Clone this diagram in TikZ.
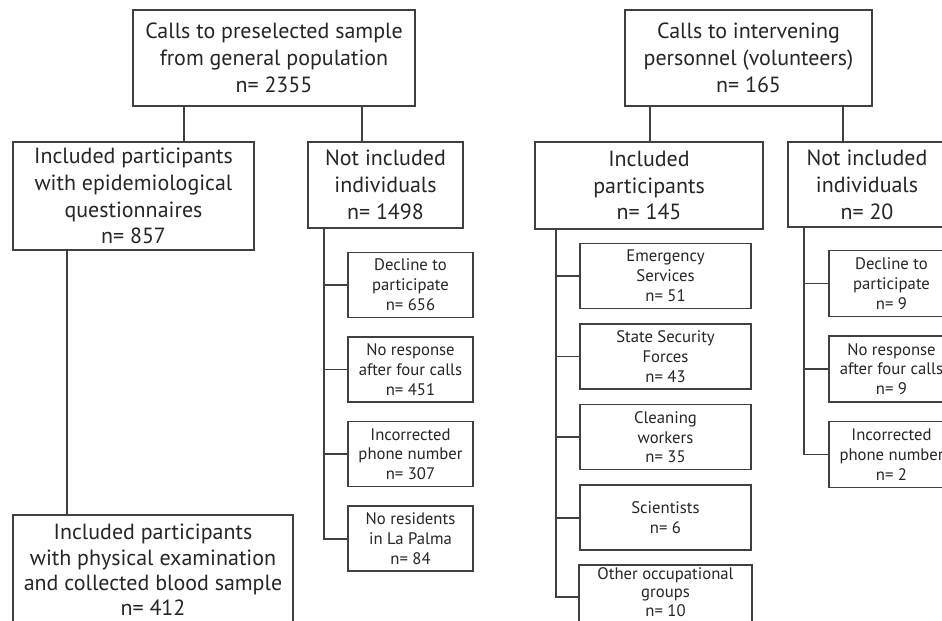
\documentclass[tikz,border=0pt]{standalone}
\usepackage{fontspec}
\setmainfont{PT Sans}
\usetikzlibrary{positioning}

\begin{document}
\begin{tikzpicture}[x=0.02cm, y=-0.02cm, every node/.style={text=black!85},
		blk/.style 2 args={draw=black!75, line width=0.9pt, minimum width=#1*0.02cm, minimum height=#2*0.02cm, inner sep=0pt, align=center, font=\fontsize{12.5}{15.3}\selectfont},
		sub/.style 2 args={blk={#1}{#2}, font=\fontsize{9.5}{11.3}\selectfont},
		lnk/.style={draw=black!75, line width=0.9pt}]
		\useasboundingbox[fill=white] (0,0) rectangle (942,620);
		\clip (0,0) rectangle (942,620);
		% general population
		\node[blk={282}{96}] (T1) at (274,58) {Calls to preselected sample\\from general population\\n= 2355};
		\node[blk={241}{108}] (I1) at (133.5,196) {Included participants\\with epidemiological\\questionnaires\\n= 857};
		\node[blk={155}{86}] (N1) at (385.5,185) {Not included\\individuals\\n= 1498};
		\node[blk={280}{110}, font=\fontsize{12.5}{14.4}\selectfont] (B1) at (153,570) {Included participants\\with physical examination\\and collected blood sample\\n= 412};
		\node[sub={125}{65}] (D1) at (410.5,285) {Decline to\\participate\\n= 656};
		\node[sub={125}{65}] (D2) [below=0.36cm of D1] {No response\\after four calls\\n= 451};
		\node[sub={125}{65}] (D3) [below=0.36cm of D2] {Incorrected\\phone number\\n= 307};
		\node[sub={125}{65}] (D4) [below=0.36cm of D3] {No residents\\in La Palma\\n= 84};
		% intervening personnel
		\node[blk={247}{96}] (T2) at (748.5,58) {Calls to intervening\\personnel (volunteers)\\n= 165};
		\node[blk={228}{87}] (I2) at (649,185.5) {Included\\participants\\n= 145};
		\node[blk={158}{85}] (N2) at (867,184.5) {Not included\\individuals\\n= 20};
		\node[sub={171}{65}] (E1) at (665.5,276) {Emergency\\Services\\n= 51};
		\node[sub={171}{65}] (E2) [below=0.28cm of E1] {State Security\\Forces\\n= 43};
		\node[sub={171}{65}] (E3) [below=0.28cm of E2] {Cleaning\\workers\\n= 35};
		\node[sub={171}{65}] (E4) [below=0.28cm of E3] {Scientists\\n= 6};
		\node[sub={171}{52}, draw=none, font=\fontsize{9.5}{10.6}\selectfont] (E5) [below=0.28cm of E4] {Other occupational\\groups\\n= 10};
		\draw[lnk] (E5.north west) rectangle ([yshift=-0.4cm]E5.south east);
		\node[sub={125}{66}] (R1) at (891.5,283.5) {Decline to\\participate\\n= 9};
		\node[sub={125}{66}] (R2) [below=0.36cm of R1] {No response\\after four calls\\n= 9};
		\node[sub={125}{66}] (R3) [below=0.36cm of R2] {Incorrected\\phone number\\n= 2};
		% connectors
		\draw[lnk] (T1.south west) ++(52,0) coordinate (c1) -- (c1 |- I1.north);
		\draw[lnk] (T1.south west) ++(230,0) coordinate (c2) -- (c2 |- N1.north);
		\draw[lnk] (I1.south west) ++(55,0) coordinate (c3) -- (c3 |- B1.north);
		\draw[lnk] (T2.south west) ++(26,0) coordinate (c4) -- (c4 |- I2.north);
		\draw[lnk] (T2.south west) ++(219,0) coordinate (c5) -- (c5 |- N2.north);
		\path (N1.south west) ++(17,0) coordinate (t1);
		\path (I2.south west) ++(22,0) coordinate (t2);
		\path (N2.south west) ++(17,0) coordinate (t3);
		\path (E5.north west) ++(0,32) coordinate (e5);
		\foreach \b in {D1,D2,D3,D4} \draw[lnk] (t1) |- (\b.west);
		\foreach \b in {E1,E2,E3,E4} \draw[lnk] (t2) |- (\b.west);
		\draw[lnk] (t2) |- (e5);
		\foreach \b in {R1,R2,R3} \draw[lnk] (t3) |- (\b.west);
	\end{tikzpicture}
\end{document}
